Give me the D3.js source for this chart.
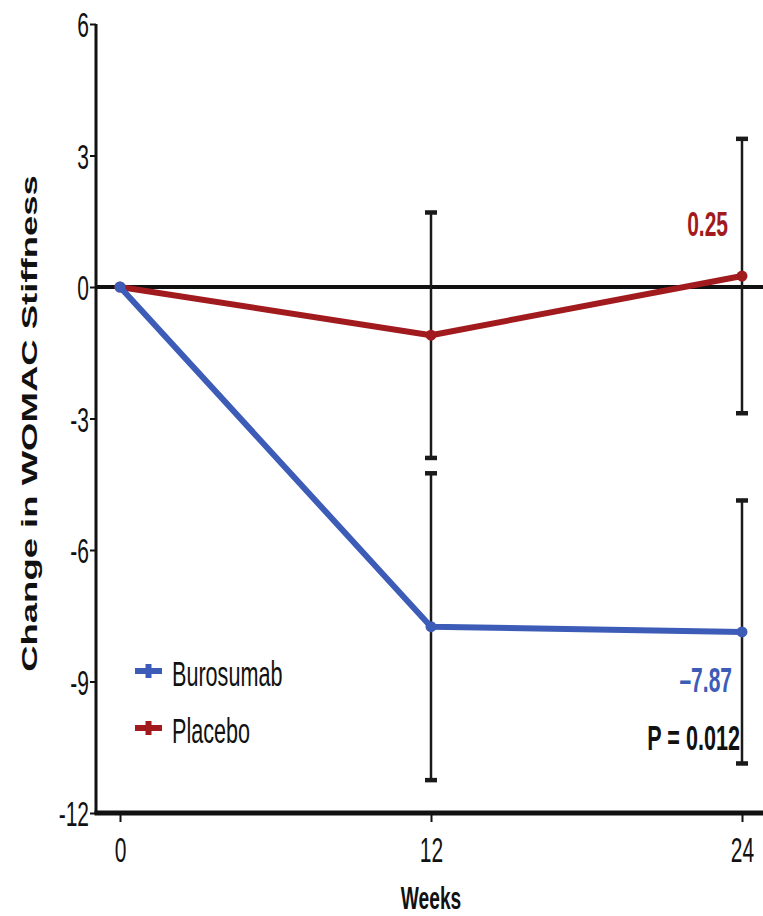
<!DOCTYPE html>
<html>
<head>
<meta charset="utf-8">
<script src="https://cdn.jsdelivr.net/npm/d3@7"></script>
<style>
  html, body { margin: 0; padding: 0; background: #fff; }
  svg { display: block; }
  text { font-family: "Liberation Sans", Arial, Helvetica, sans-serif; }
</style>
</head>
<body>
<svg id="chart" width="763" height="916"></svg>
<script>
// Change from baseline in WOMAC stiffness score, by week
const weeks = [0, 12, 24];
const burosumabMean = [0, -7.75, -7.87];
const burosumabErr = [0, 3.5, 3.0];
const placeboMean = [0, -1.1, 0.25];
const placeboErr = [0, 2.8, 3.13];
const yTicks = [-12, -9, -6, -3, 0, 3, 6];
const xTicks = [0, 12, 24];
const seriesNames = ["Burosumab", "Placebo"];
const pValueText = "P = 0.012";

const W = 763, H = 916;
const axisLeftX = 96, axisBottomY = 813;
const BLUE = "#3d5cb7", RED = "#a11b1e", INK = "#111";
const SX = 0.6; // horizontal squeeze applied to upright text

const svg = d3.select("#chart");

const x = d3.scaleLinear().domain([0, 24]).range([120, 742]);
const y = d3.scaleLinear().domain([-12, 6]).range([axisBottomY, 24]);

// zero reference line
svg.append("line")
  .attr("x1", axisLeftX).attr("x2", W)
  .attr("y1", y(0)).attr("y2", y(0))
  .attr("stroke", INK).attr("stroke-width", 4);

// error bars (drawn beneath the lines)
function errorBars(means, errs) {
  const g = svg.append("g");
  weeks.forEach((w, i) => {
    if (errs[i] === 0) return;
    const top = y(means[i] + errs[i]), bot = y(means[i] - errs[i]);
    g.append("line").attr("x1", x(w)).attr("x2", x(w))
      .attr("y1", top).attr("y2", bot)
      .attr("stroke", "#1a1a1a").attr("stroke-width", 2.5);
    [top, bot].forEach(cy => {
      g.append("line").attr("x1", x(w) - 6).attr("x2", x(w) + 6)
        .attr("y1", cy).attr("y2", cy)
        .attr("stroke", "#1a1a1a").attr("stroke-width", 4.5);
    });
  });
}
errorBars(placeboMean, placeboErr);
errorBars(burosumabMean, burosumabErr);

// mean lines with point markers
const line = d3.line().x(d => x(d[0])).y(d => y(d[1]));
function series(means, color) {
  const pts = weeks.map((w, i) => [w, means[i]]);
  svg.append("path").datum(pts)
    .attr("d", line).attr("fill", "none")
    .attr("stroke", color).attr("stroke-width", 6)
    .attr("stroke-linejoin", "round");
  svg.append("g").selectAll("circle").data(pts).join("circle")
    .attr("cx", d => x(d[0])).attr("cy", d => y(d[1]))
    .attr("r", 5.5).attr("fill", color);
}
series(placeboMean, RED);
series(burosumabMean, BLUE);

// y axis
const yAxis = svg.append("g")
  .attr("transform", `translate(${axisLeftX},0)`)
  .call(d3.axisLeft(y).tickValues(yTicks).tickFormat(d => String(d))
    .tickSize(6).tickSizeOuter(0));
yAxis.select(".domain").remove();
yAxis.selectAll(".tick line").attr("stroke", INK).attr("stroke-width", 2);
yAxis.selectAll(".tick text")
  .attr("x", null).attr("dy", null)
  .attr("transform", `translate(-7,12.5) scale(${SX},1)`)
  .attr("font-size", 35).attr("fill", INK)
  .attr("text-anchor", "end");
svg.append("line")
  .attr("x1", axisLeftX).attr("x2", axisLeftX)
  .attr("y1", y(6)).attr("y2", axisBottomY)
  .attr("stroke", INK).attr("stroke-width", 3);

// x axis
const xAxis = svg.append("g")
  .attr("transform", `translate(0,${axisBottomY})`)
  .call(d3.axisBottom(x).tickValues(xTicks).tickFormat(d => String(d))
    .tickSize(9).tickSizeOuter(0));
xAxis.select(".domain").remove();
xAxis.selectAll(".tick line").attr("stroke", INK).attr("stroke-width", 2);
xAxis.selectAll(".tick text")
  .attr("y", null).attr("dy", null)
  .attr("transform", `translate(0,49) scale(${SX},1)`)
  .attr("font-size", 35).attr("fill", INK);
svg.append("line")
  .attr("x1", axisLeftX - 1.5).attr("x2", W)
  .attr("y1", axisBottomY).attr("y2", axisBottomY)
  .attr("stroke", INK).attr("stroke-width", 5);

// upright, squeezed text helper
function label(tx, ty, str, opts) {
  return svg.append("text")
    .attr("transform", `translate(${tx},${ty}) scale(${SX},1)`)
    .attr("text-anchor", opts.anchor || "start")
    .attr("font-size", opts.size || 35)
    .attr("font-weight", opts.weight || "normal")
    .attr("fill", opts.fill || INK)
    .text(str);
}

// axis titles
label(x(12), 909, "Weeks", { anchor: "middle", size: 32, weight: "bold" });
svg.append("text")
  .attr("transform", `translate(37,${(175 + 672) / 2}) rotate(-90) scale(1.66,1)`)
  .attr("text-anchor", "middle")
  .attr("font-size", 22).attr("font-weight", "bold").attr("fill", INK)
  .text("Change in WOMAC Stiffness");

// value annotations at week 24
const last = weeks.length - 1;
label(728, y(placeboMean[last]) - 40, placeboMean[last].toFixed(2),
  { anchor: "end", size: 35, weight: "bold", fill: RED });
label(732, y(burosumabMean[last]) + 60, "\u2013" + Math.abs(burosumabMean[last]).toFixed(2),
  { anchor: "end", size: 35, weight: "bold", fill: BLUE });
label(740, 750, pValueText, { anchor: "end", size: 36, weight: "bold" });

// legend
const legendColors = [BLUE, RED];
const legendY = [671, 728];
seriesNames.forEach((name, i) => {
  const ly = legendY[i];
  svg.append("line").attr("x1", 135).attr("x2", 162)
    .attr("y1", ly).attr("y2", ly)
    .attr("stroke", legendColors[i]).attr("stroke-width", 6);
  svg.append("rect").attr("x", 145.5).attr("y", ly - 7).attr("width", 6).attr("height", 14)
    .attr("fill", legendColors[i]);
  label(172, ly + 15, name, { size: 36 });
});
</script>
</body>
</html>
